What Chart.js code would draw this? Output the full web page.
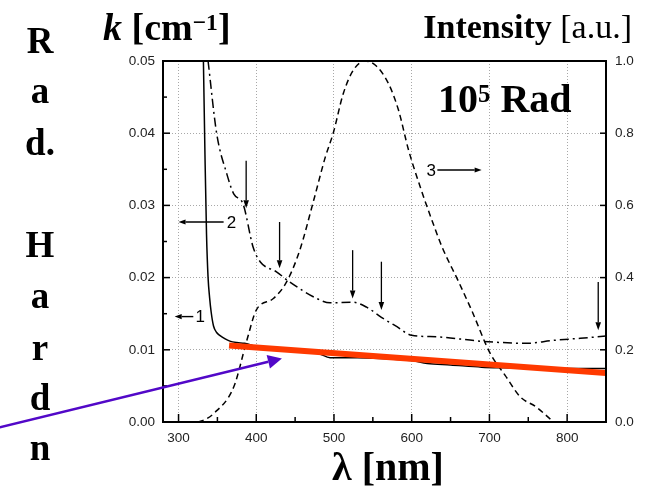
<!DOCTYPE html>
<html>
<head>
<meta charset="utf-8">
<script src="https://cdn.jsdelivr.net/npm/chart.js@4.4.0/dist/chart.umd.min.js"></script>
<style>
  html, body { margin: 0; padding: 0; background: #fff; }
  #wrap { position: relative; width: 653px; height: 490px; overflow: hidden; }
  #chart { position: absolute; left: 0; top: 0; }
  .lbl { position: absolute; font-family: 'Liberation Serif', 'Times New Roman', serif; font-weight: bold; line-height: 1; white-space: nowrap; color: #000; }
  .sup { position: relative; top: -0.42em; font-size: 0.62em; }
  .stack { position: absolute; left: 0; width: 80px; text-align: center; font-size: 37px; }
</style>
</head>
<body>
<div id="wrap">
  <canvas id="chart" width="653" height="490"></canvas>
  <div class="lbl" style="left:103px; top:8px; font-size:38px;"><i>k</i> [cm<span class="sup">&minus;1</span>]</div>
  <div class="lbl" style="right:21px; top:10px; font-size:34px;">Intensity <span style="font-weight:normal">[a.u.]</span></div>
  <div class="lbl" style="left:438px; top:79px; font-size:40px;">10<span class="sup">5</span> Rad</div>
  <div class="lbl" style="left:332px; top:447px; font-size:40px;">&lambda; [nm]</div>
  <div id="stack"></div>
</div>
<script>
// curve 1 - absorption coefficient, solid (left axis)
const waveSolid = [332, 334, 336, 338, 340, 342, 345, 349, 353, 360, 366, 375, 385, 395, 400, 430, 460, 480, 495, 530, 560, 600, 620, 650, 690, 720, 760, 800, 850];
const kSolid = [0.050, 0.037, 0.026, 0.0200, 0.0172, 0.0152, 0.0133, 0.0124, 0.0120, 0.0115, 0.0112, 0.0110, 0.0109, 0.0106, 0.0104, 0.0101, 0.0098, 0.0095, 0.0089, 0.0089, 0.0088, 0.0085, 0.0081, 0.0079, 0.0076, 0.0075, 0.0074, 0.0074, 0.0074];

// curve 2 - dash-dot (left axis)
const waveDashDot = [338, 349, 362, 371, 383, 396, 405, 426, 443, 478, 495, 524, 542, 561, 581, 600, 632, 688, 748, 782, 817, 850];
const kDashDot = [0.050, 0.040, 0.0344, 0.0316, 0.0302, 0.0242, 0.0222, 0.0208, 0.0194, 0.0171, 0.0165, 0.0166, 0.0159, 0.0145, 0.0132, 0.0120, 0.0118, 0.0112, 0.0109, 0.0113, 0.0116, 0.0119];

// curve 3 - emission intensity, dashed (right axis)
const waveDash = [325, 335, 345, 371, 388, 400, 422, 439, 456, 474, 489, 499, 512, 525, 540, 553, 570, 583, 596, 611, 626, 639, 660, 677, 701, 720, 740, 760, 780];
const intDash = [0.0, 0.008, 0.023, 0.097, 0.227, 0.31, 0.342, 0.388, 0.476, 0.615, 0.735, 0.80, 0.91, 0.975, 1.0, 0.989, 0.938, 0.864, 0.753, 0.651, 0.559, 0.485, 0.39, 0.31, 0.19, 0.13, 0.069, 0.042, 0.005];

// red fit line
const waveFit = [365, 850];
const kFit = [0.0106, 0.0068];

// axis ticks
const xTicks = [300, 400, 500, 600, 700, 800];
const xMinor = [350, 450, 550, 650, 750];
const kTicks = [0, 0.01, 0.02, 0.03, 0.04, 0.05];
const kMinor = [0.005, 0.015, 0.025, 0.035, 0.045];
const intTicks = [0, 0.2, 0.4, 0.6, 0.8, 1.0];

// annotations (data units)
const downArrowWave = [387, 430, 524, 561, 840];
const downArrowTop = [0.0362, 0.0277, 0.0238, 0.0222, 0.0194];
const downArrowTip = [0.0296, 0.0213, 0.0171, 0.0155, 0.0127];
const curveLabels = ['1', '2', '3'];
const labelWave = [328, 368, 625];
const labelK = [0.0146, 0.0277, 0.0349];
const labelArrowFrom = [319, 358, 633];
const labelArrowTo = [295, 300, 690];
const pointerFrom = [70, -0.00073];
const pointerTo = [433, 0.0088];

// vertical "Rad. Hardn" letters
const stackLetters = ['R', 'a', 'd.', '', 'H', 'a', 'r', 'd', 'n'];
const stackBase = [53, 103, 155, 205, 257, 308, 360, 410, 460];

const stackDiv = document.getElementById('stack');
stackLetters.forEach((t, i) => {
    if (!t) return;
    const d = document.createElement('div');
    d.className = 'lbl stack';
    d.style.top = (stackBase[i] - 31) + 'px';
    d.textContent = t;
    stackDiv.appendChild(d);
});

const pts = (xs, ys) => xs.map((v, i) => ({x: v, y: ys[i]}));

function arrow(ctx, x1, y1, x2, y2, head, half, color, width) {
    const ang = Math.atan2(y2 - y1, x2 - x1);
    const bx = x2 - head * Math.cos(ang), by = y2 - head * Math.sin(ang);
    ctx.strokeStyle = color;
    ctx.fillStyle = color;
    ctx.lineWidth = width;
    ctx.beginPath(); ctx.moveTo(x1, y1); ctx.lineTo(bx, by); ctx.stroke();
    ctx.beginPath();
    ctx.moveTo(x2, y2);
    ctx.lineTo(bx + half * Math.sin(ang), by - half * Math.cos(ang));
    ctx.lineTo(bx - half * Math.sin(ang), by + half * Math.cos(ang));
    ctx.closePath();
    ctx.fill();
}

const decor = {
    id: 'decor',
    afterDraw(chart) {
        const {ctx, chartArea: a, scales: {x, y, y2}} = chart;
        ctx.save();
        ctx.setLineDash([]);
        // frame
        ctx.strokeStyle = '#000';
        ctx.lineWidth = 2;
        ctx.strokeRect(a.left, a.top, a.right - a.left, a.bottom - a.top);
        // inside ticks
        ctx.lineWidth = 1.5;
        const seg = (x1, y1, x2, y2) => { ctx.beginPath(); ctx.moveTo(x1, y1); ctx.lineTo(x2, y2); ctx.stroke(); };
        xTicks.forEach(v => { const p = x.getPixelForValue(v); seg(p, a.bottom, p, a.bottom - 8); });
        xMinor.forEach(v => { const p = x.getPixelForValue(v); seg(p, a.bottom, p, a.bottom - 5); });
        kTicks.forEach(v => { const p = y.getPixelForValue(v); seg(a.left, p, a.left + 7, p); });
        kMinor.forEach(v => { const p = y.getPixelForValue(v); seg(a.left, p, a.left + 4, p); });
        intTicks.forEach(v => { const p = y2.getPixelForValue(v); seg(a.right, p, a.right - 6, p); });

        // vertical arrows marking bands
        downArrowWave.forEach((w, i) => {
            const px = x.getPixelForValue(w);
            arrow(ctx, px, y.getPixelForValue(downArrowTop[i]), px, y.getPixelForValue(downArrowTip[i]), 8, 2.8, '#000', 1.3);
        });

        // curve labels with arrows
        ctx.font = '17px "Liberation Sans", Arial, sans-serif';
        ctx.textAlign = 'center';
        ctx.textBaseline = 'middle';
        curveLabels.forEach((t, i) => {
            const py = y.getPixelForValue(labelK[i]);
            ctx.fillStyle = '#000';
            ctx.fillText(t, x.getPixelForValue(labelWave[i]), py + 1);
            arrow(ctx, x.getPixelForValue(labelArrowFrom[i]), py, x.getPixelForValue(labelArrowTo[i]), py, 7, 2.6, '#000', 1.4);
        });

        // purple pointer to the fit line
        arrow(ctx,
            x.getPixelForValue(pointerFrom[0]), y.getPixelForValue(pointerFrom[1]),
            x.getPixelForValue(pointerTo[0]), y.getPixelForValue(pointerTo[1]),
            14, 7, '#5208c8', 2.6);
        ctx.restore();
    }
};

const tickFont = {family: '"Liberation Sans", Arial, sans-serif', size: 13.5};

new Chart(document.getElementById('chart'), {
    type: 'line',
    data: {
        datasets: [
            {
                data: pts(waveFit, kFit), yAxisID: 'y', order: 0,
                borderColor: '#ff3a00', borderWidth: 6, borderCapStyle: 'butt',
                pointRadius: 0
            },
            {
                data: pts(waveSolid, kSolid), yAxisID: 'y', order: 1,
                borderColor: '#000', borderWidth: 1.5, pointRadius: 0,
                cubicInterpolationMode: 'monotone'
            },
            {
                data: pts(waveDashDot, kDashDot), yAxisID: 'y', order: 2,
                borderColor: '#000', borderWidth: 1.5, borderDash: [9, 4, 2, 4], pointRadius: 0,
                cubicInterpolationMode: 'monotone'
            },
            {
                data: pts(waveDash, intDash), yAxisID: 'y2', order: 3,
                borderColor: '#000', borderWidth: 1.5, borderDash: [6, 4], pointRadius: 0,
                cubicInterpolationMode: 'monotone'
            }
        ]
    },
    options: {
        responsive: false,
        animation: false,
        devicePixelRatio: 1,
        layout: {padding: {top: 61, left: 0, right: 0, bottom: 0}},
        plugins: {legend: {display: false}, tooltip: {enabled: false}},
        scales: {
            x: {
                type: 'linear', min: 280, max: 850,
                afterBuildTicks: s => { s.ticks = xTicks.map(v => ({value: v})); },
                afterFit: s => { s.height = 68; },
                grid: {color: '#a8a8a8', lineWidth: 1, drawTicks: false},
                border: {display: false, dash: [1, 2]},
                ticks: {padding: 8, color: '#222', font: tickFont, maxRotation: 0, autoSkip: false, callback: v => String(v)}
            },
            y: {
                position: 'left', min: 0, max: 0.05,
                afterBuildTicks: s => { s.ticks = kTicks.map(v => ({value: v})); },
                afterFit: s => { s.width = 163; },
                grid: {color: '#a8a8a8', lineWidth: 1, drawTicks: false},
                border: {display: false, dash: [1, 2]},
                ticks: {padding: 8, color: '#222', font: tickFont, callback: v => v.toFixed(2)}
            },
            y2: {
                position: 'right', min: 0, max: 1,
                afterBuildTicks: s => { s.ticks = intTicks.map(v => ({value: v})); },
                afterFit: s => { s.width = 47; },
                grid: {display: false, drawTicks: false},
                border: {display: false},
                ticks: {padding: 9, color: '#222', font: tickFont, callback: v => v.toFixed(1)}
            }
        }
    },
    plugins: [decor]
});
</script>
</body>
</html>
